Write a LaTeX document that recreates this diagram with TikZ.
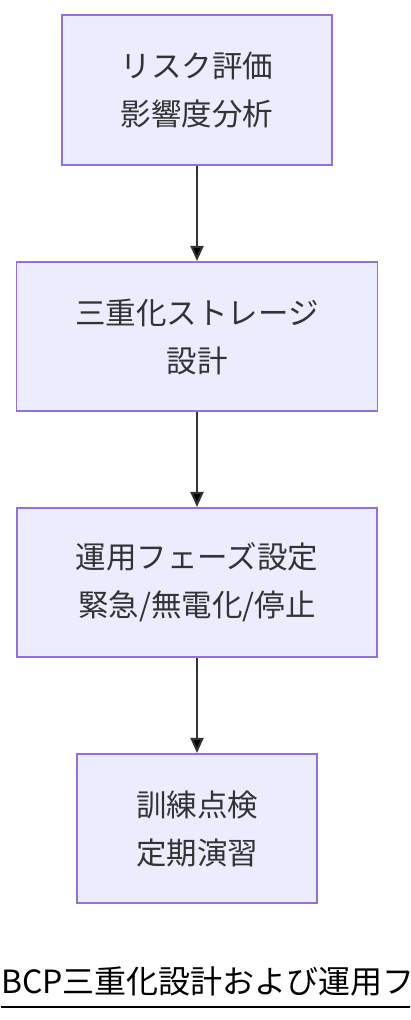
\documentclass[tikz,border=0pt]{standalone}
\usepackage{fontspec}
\setmainfont{Noto Sans CJK JP}
\usetikzlibrary{arrows.meta,positioning}
\definecolor{boxfill}{HTML}{ECECFF}
\definecolor{boxline}{HTML}{9370DB}
\definecolor{ink}{HTML}{333333}
\begin{document}
\begin{tikzpicture}[x=1pt,y=1pt,
    >={Triangle[length=15pt,width=13pt]},
    box/.style={draw=boxline, fill=boxfill, line width=1.6pt, text=ink,
      align=center, inner xsep=58.75pt, minimum height=149.5pt,
      font=\fontsize{30.5}{48}\selectfont}]
  \useasboundingbox (0,0) rectangle (410,-1020);
  \clip (0,0) rectangle (410,-1020);
  \node (RA) [box] at (197,-90) {リスク評価\\影響度分析};
  \node (TS) [box, below of=RA, node distance=246.5pt] {三重化ストレージ\\設計};
  \node (OP) [box, below of=TS, node distance=246pt] {運用フェーズ設定\\緊急/無電化/停止};
  \node (TR) [box, below of=OP, node distance=246pt] {訓練点検\\定期演習};
  \path[->, draw=ink, line width=2pt] (RA) edge (TS)
            (TS) edge (OP)
            (OP) edge (TR);
  % title, cut off at the right edge
  \node (T) [anchor=base west, inner sep=0pt, font=\fontsize{32}{32}\selectfont]
    at (1,-993) {BCP三重化設計および運用フェーズ};
  \draw[line width=2pt] ([yshift=-14pt]T.base west) -- ([yshift=-14pt]T.base east);
\end{tikzpicture}
\end{document}
